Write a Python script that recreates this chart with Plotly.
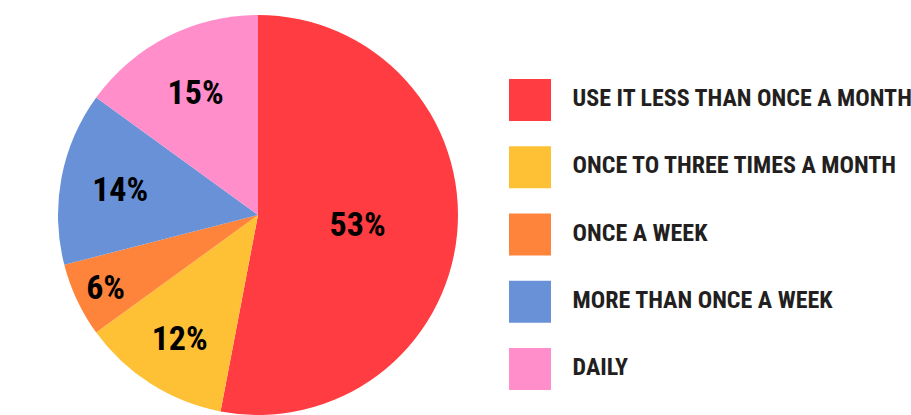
import plotly.graph_objects as go

categories = ["USE IT LESS THAN ONCE A MONTH", "ONCE TO THREE TIMES A MONTH",
              "ONCE A WEEK", "MORE THAN ONCE A WEEK", "DAILY"]
values = [53, 12, 6, 14, 15]
colors = ["#FF3C41", "#FEC136", "#FF843B", "#6891D8", "#FF8ECB"]

W, H = 911, 415
FONT = "Roboto Condensed, Open Sans Condensed, Liberation Sans Narrow, Lato"

fig = go.Figure()

fig.add_trace(go.Pie(
    labels=categories,
    values=values,
    marker=dict(colors=colors, line=dict(width=0)),
    sort=False,
    direction="clockwise",
    rotation=0,
    textinfo="percent",
    texttemplate="<b>%{percent:.0%}</b>",
    textposition="inside",
    insidetextorientation="horizontal",
    textfont=dict(family=FONT, size=34, color="#000000"),
    domain=dict(x=[58 / W, 458 / W], y=[0, 400 / H]),
    showlegend=False,
    hoverinfo="label+percent",
))

# legend drawn as a scatter of big square markers with labels
idx = list(range(len(categories)))
fig.add_trace(go.Scatter(
    x=[0] * len(categories),
    y=idx,
    mode="markers+text",
    marker=dict(symbol="square", size=42, color=colors, line=dict(width=0)),
    text=["<b>\u2002\u2009" + c + "</b>" for c in categories],
    textposition="middle right",
    textfont=dict(family=FONT, size=24, color="#231F20"),
    showlegend=False,
    hoverinfo="skip",
    cliponaxis=False,
))

fig.update_xaxes(range=[-5.30, 3.81], visible=False, domain=[0, 1], fixedrange=True)
fig.update_yaxes(range=[4.684, -1.487], visible=False, domain=[0, 1], fixedrange=True)

fig.update_layout(
    width=W, height=H,
    margin=dict(l=0, r=0, t=0, b=0),
    paper_bgcolor="white",
    plot_bgcolor="white",
    showlegend=False,
)

fig.write_html("out.html")
